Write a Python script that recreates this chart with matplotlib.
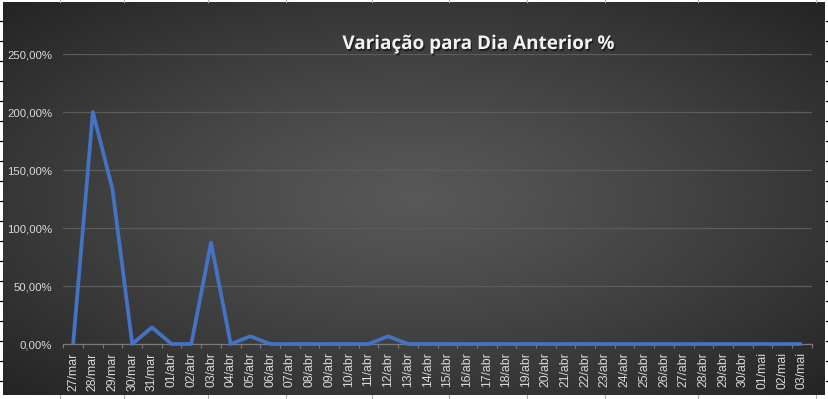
import numpy as np
import matplotlib
matplotlib.use("Agg")
import matplotlib.pyplot as plt
from matplotlib import patheffects as pe
from matplotlib.ticker import FuncFormatter, FixedLocator

# Chart data
dates = ["27/mar", "28/mar", "29/mar", "30/mar", "31/mar",
         "01/abr", "02/abr", "03/abr", "04/abr", "05/abr", "06/abr", "07/abr",
         "08/abr", "09/abr", "10/abr", "11/abr", "12/abr", "13/abr", "14/abr",
         "15/abr", "16/abr", "17/abr", "18/abr", "19/abr", "20/abr", "21/abr",
         "22/abr", "23/abr", "24/abr", "25/abr", "26/abr", "27/abr", "28/abr",
         "29/abr", "30/abr", "01/mai", "02/mai", "03/mai"]
variation = [0, 200, 133.33, 0, 14.29,
             0, 0, 87.5, 0, 6.67, 0, 0,
             0, 0, 0, 0, 6.67, 0, 0,
             0, 0, 0, 0, 0, 0, 0,
             0, 0, 0, 0, 0, 0, 0,
             0, 0, 0, 0, 0]
y_ticks = [0, 50, 100, 150, 200, 250]
title = "Variação para Dia Anterior %"

W, H = 829, 399
fig = plt.figure(figsize=(W / 100, H / 100), dpi=100, facecolor="white")

# background: the chart area with a radial grey gradient
bg = fig.add_axes([0, 0, 1, 1])
bg.set_xlim(0, W)
bg.set_ylim(H, 0)
bg.axis("off")
x0, x1, y0, y1 = 3, 825, 2, 395
gx, gy = np.meshgrid(np.linspace(-1, 1, 400), np.linspace(-1, 1, 200))
r = np.clip(np.sqrt(gx ** 2 + gy ** 2) / np.sqrt(2), 0, 1)
centre, edge = 0x58 / 255, 0x24 / 255
shade = centre + (edge - centre) * r ** 1.2
img = np.dstack([shade, shade, shade])
bg.imshow(img, extent=[x0, x1, y1, y0], aspect="auto", interpolation="bilinear", zorder=0)

# spreadsheet bits around the chart (screenshot edges)
for yy in range(21, 395, 20):
    bg.plot([0, 3], [yy, yy], color="black", lw=0.9, zorder=1)
    bg.plot([826, 829], [yy, yy], color="black", lw=0.9, zorder=1)
for xx in [60, 124, 208, 286, 372, 449, 527, 605, 698, 816]:
    bg.plot([xx, xx], [0, 2], color="#b0b0b0", lw=0.8, zorder=1)
    bg.plot([xx, xx], [395, 399], color="#b0b0b0", lw=0.8, zorder=1)

# plot area
left, right, bottom, top = 63.3, 811.7, 344, 54
ax = fig.add_axes([left / W, (H - bottom) / H, (right - left) / W, (bottom - top) / H])
ax.set_facecolor("none")
x = np.arange(len(dates))
ax.plot(x, variation, color="#4472C4", lw=2.7, solid_joinstyle="round",
        solid_capstyle="butt", zorder=3, clip_on=False)

ax.set_xlim(-0.5, len(dates) - 0.5)
ax.set_ylim(0, 250)
ax.set_yticks(y_ticks)
ax.yaxis.set_major_formatter(FuncFormatter(lambda v, p: f"{v:.2f}".replace(".", ",") + "%"))
ax.grid(axis="y", color="#5c5c5c", lw=0.9, zorder=1)

ax.set_xticks(x)
ax.set_xticklabels(dates, rotation=90)
ax.xaxis.set_minor_locator(FixedLocator(np.arange(len(dates) + 1) - 0.5))
ax.tick_params(axis="x", which="major", length=0, pad=6, labelsize=8.8, labelcolor="#d9d9d9")
ax.tick_params(axis="x", which="minor", length=3, width=0.8, color="#7a7a7a")
ax.tick_params(axis="y", length=0, pad=8, labelsize=8.2, labelcolor="#d9d9d9")
for lab in ax.get_xticklabels() + ax.get_yticklabels():
    lab.set_family("Liberation Sans")

for s in ["top", "right", "left"]:
    ax.spines[s].set_visible(False)
ax.spines["bottom"].set_color("#7a7a7a")
ax.spines["bottom"].set_linewidth(0.9)
ax.spines["bottom"].set_zorder(2)

# title with a soft shadow
fig.text(478.5 / W, 1 - 44 / H, title, ha="center", va="center", color="#f2f2f2",
         fontsize=13.6, fontweight="bold", family="Open Sans",
         path_effects=[pe.withSimplePatchShadow(offset=(1, -1.5), shadow_rgbFace="black", alpha=0.5)])

fig.savefig("out.png", dpi=100, facecolor="white")
